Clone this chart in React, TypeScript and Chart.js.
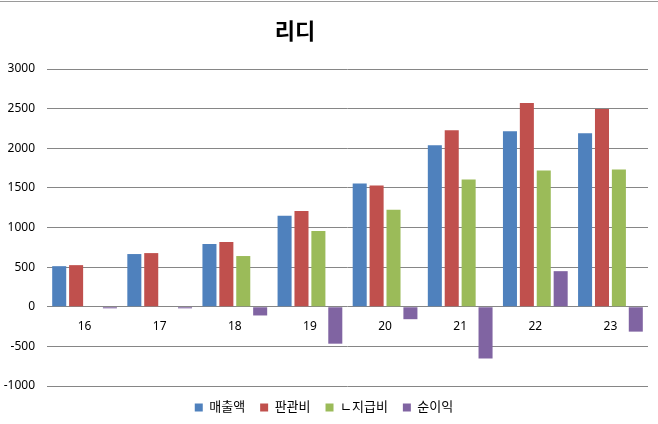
import React, { useEffect, useRef } from "react";
import Chart from "chart.js/auto";

const years = ["16", "17", "18", "19", "20", "21", "22", "23"];
const sales = [512, 665, 792, 1148, 1554, 2037, 2215, 2190];
const sga = [525, 677, 817, 1207, 1529, 2228, 2571, 2495];
const payments = [0, 0, 640, 957, 1224, 1605, 1720, 1731];
const netIncome = [-20, -20, -110, -466, -157, -653, 449, -314];
const seriesNames = ["매출액", "판관비", "ㄴ지급비", "순이익"];
const seriesColors = ["#4F81BD", "#C0504D", "#9BBB59", "#8064A2"];

const FONT = "'Noto Sans', 'Noto Sans CJK KR', sans-serif";

const titlePlugin = {
    id: "fixedTitle",
    afterDraw(chart: any) {
        const ctx = chart.ctx;
        ctx.save();
        ctx.font = "bold 22px 'Noto Sans CJK KR', sans-serif";
        ctx.fillStyle = "#000";
        ctx.textAlign = "center";
        ctx.textBaseline = "middle";
        ctx.fillText("리디", 295, 31);
        ctx.restore();
    },
};

const App = () => {
    const canvasRef = useRef<HTMLCanvasElement | null>(null);

    useEffect(() => {
        document.body.style.margin = "0";
        const ctx = canvasRef.current?.getContext("2d") as CanvasRenderingContext2D;
        if (!ctx) return;
        const data = [sales, sga, payments, netIncome];
        const chart = new Chart(ctx, {
            type: "bar",
            data: {
                labels: years,
                datasets: seriesNames.map((name, i) => ({
                    label: name,
                    data: data[i],
                    backgroundColor: seriesColors[i],
                    borderWidth: 0,
                    categoryPercentage: 0.9,
                    barPercentage: 0.83,
                })),
            },
            options: {
                animation: false,
                responsive: false,
                layout: { padding: { top: 69, right: 10, bottom: 0, left: 0 } },
                plugins: {
                    title: { display: false },
                    tooltip: { enabled: false },
                    legend: {
                        position: "bottom",
                        labels: {
                            boxWidth: 8,
                            boxHeight: 8,
                            padding: 15,
                            color: "#000",
                            font: { family: FONT, size: 13 },
                        },
                    },
                },
                scales: {
                    x: {
                        position: { y: 0 } as any,
                        grid: { display: false },
                        border: { display: false },
                        ticks: { color: "#000", padding: 5, font: { family: FONT, size: 12 } },
                    },
                    y: {
                        min: -1000,
                        max: 3000,
                        ticks: {
                            stepSize: 500,
                            color: "#000",
                            padding: 12,
                            font: { family: FONT, size: 12 },
                            callback: (v: any) => String(v),
                        },
                        grid: { color: "#868686", drawTicks: false },
                        border: { display: false },
                        afterFit: (scale: any) => {
                            scale.width = 47;
                        },
                    },
                },
            },
            plugins: [titlePlugin],
        });
        return () => {
            chart.destroy();
        };
    }, []);

    return (
        <div style={{ position: "relative", width: 658, height: 424, background: "#fff" }}>
            <canvas ref={canvasRef} width={658} height={424} />
            <div style={{ position: "absolute", left: 0, top: 1, width: 658, height: 1, background: "#9a9a9a" }} />
        </div>
    );
};

export default App;
